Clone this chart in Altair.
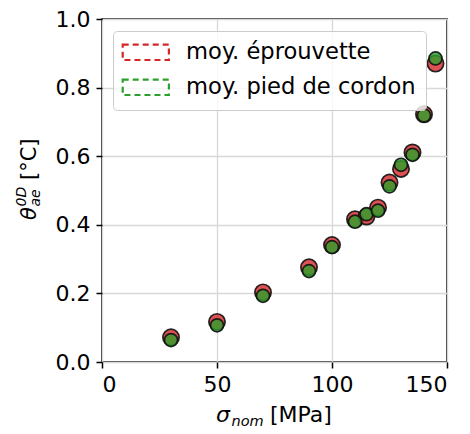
import altair as alt
import pandas as pd

# ---- data ----
SIGMA_NOM = [30, 50, 70, 90, 100, 110, 115, 120, 125, 130, 135, 140, 145]
THETA_EPROUVETTE = [0.072, 0.117, 0.203, 0.276, 0.341, 0.416, 0.424, 0.450, 0.523, 0.563, 0.611, 0.722, 0.870]
THETA_PIED = [0.064, 0.107, 0.193, 0.265, 0.335, 0.409, 0.431, 0.441, 0.512, 0.575, 0.604, 0.719, 0.885]
SERIES = ["moy. éprouvette", "moy. pied de cordon"]
COLORS = ["#d62728", "#2ca02c"]
X_TICKS = [0, 50, 100, 150]
Y_TICKS = [0.0, 0.2, 0.4, 0.6, 0.8, 1.0]
X_DOMAIN = [0, 150]
Y_DOMAIN = [0, 1]

FONT = "DejaVu Sans"
W, H = 345, 343

df = pd.DataFrame({
    "sigma": SIGMA_NOM * 2,
    "theta": THETA_EPROUVETTE + THETA_PIED,
    "serie": [SERIES[0]] * len(SIGMA_NOM) + [SERIES[1]] * len(SIGMA_NOM),
})

x_enc = alt.X("sigma:Q", scale=alt.Scale(domain=X_DOMAIN, nice=False, zero=False),
              axis=alt.Axis(values=X_TICKS, title=None, format="d"))
y_enc = alt.Y("theta:Q", scale=alt.Scale(domain=Y_DOMAIN, nice=False, zero=False),
              axis=alt.Axis(values=Y_TICKS, title=None, format=".1f"))

base = alt.Chart(df)

red = base.transform_filter(alt.datum.serie == SERIES[0]).mark_circle(
    size=265, fill=COLORS[0], fillOpacity=0.8, opacity=1,
    stroke="#111111", strokeWidth=1.7, strokeOpacity=0.9,
).encode(x=x_enc, y=y_enc)

green = base.transform_filter(alt.datum.serie == SERIES[1]).mark_circle(
    size=170, fill=COLORS[1], fillOpacity=0.8, opacity=1,
    stroke="#111111", strokeWidth=1.7, strokeOpacity=0.9,
).encode(x=x_enc, y=y_enc)

legend_layer = base.transform_filter("false").mark_point(filled=False, opacity=1).encode(
    x=x_enc, y=y_enc,
    color=alt.Color("serie:N", scale=alt.Scale(domain=SERIES, range=COLORS),
                    legend=alt.Legend(
                        title=None, orient="none", legendX=11, legendY=12,
                        symbolType="M-3,-1H3V1H-3Z", symbolSize=237,
                        symbolStrokeWidth=2.2, symbolDash=[6, 4],
                        symbolFillColor="transparent", symbolOpacity=1,
                        symbolOffset=11.5, labelOffset=29,
                        labelFontSize=22.6, labelFont=FONT, labelColor="black",
                        labelLimit=400, rowPadding=10, padding=10,
                        fillColor="rgba(255,255,255,0.8)", strokeColor="#cccccc",
                        cornerRadius=4,
                    )),
)


def txt(s, x, y, size=22, italic=False, angle=0):
    return alt.Chart(pd.DataFrame({"t": [s]})).mark_text(
        align="left", baseline="alphabetic", font=FONT, fontSize=size,
        fontStyle="italic" if italic else "normal", color="black", angle=angle,
    ).encode(x=alt.value(x), y=alt.value(y), text="t:N")


# x-axis title: sigma_nom [MPa]
xt = [
    txt("σ", 114, 403, 22, True),
    txt("nom", 129.5, 407, 14.5, True),
    txt("[MPa]", 168, 403, 22),
]
# y-axis title: theta^{0D}_{ae} [°C]  (rotated)
yt = [
    txt("θ", -66, 201, 21, True, 270),
    txt("0D", -76, 187.5, 14, True, 270),
    txt("ae", -62, 187.5, 14, True, 270),
    txt("[°C]", -66, 161, 21, False, 270),
]

chart = alt.layer(red, green, legend_layer, *xt, *yt).properties(
    width=W, height=H,
    autosize=alt.AutoSizeParams(type="none"),
    padding={"left": 94, "top": 11, "right": 10, "bottom": 72},
).configure_view(
    stroke="black", strokeWidth=1.5,
).configure_axis(
    domain=False, ticks=True, tickColor="black", tickWidth=1.5, tickSize=6,
    labelFont=FONT, labelFontSize=22, labelColor="black", labelPadding=6,
    grid=True, gridColor="#d8d8d8", gridWidth=1.3,
)

chart.save("out.html", embed_options={"renderer": "svg", "actions": False})
